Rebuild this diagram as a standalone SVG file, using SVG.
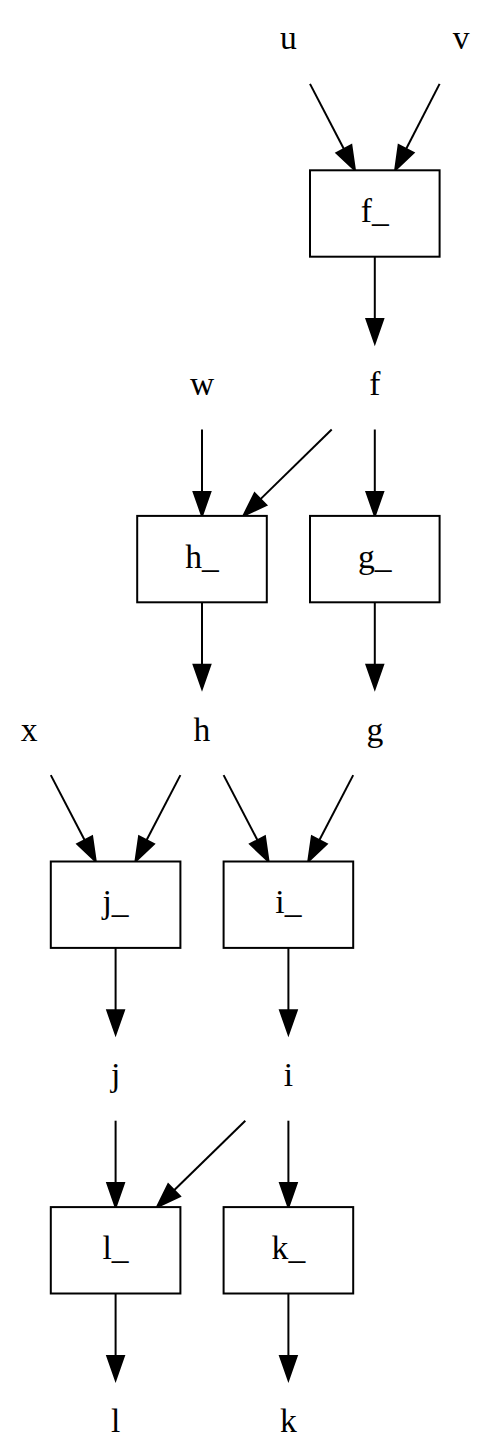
<svg xmlns="http://www.w3.org/2000/svg" width="496" height="1454" viewBox="0 0 496 1454">
<style>
text{font-family:"Liberation Serif","Times New Roman",serif;font-size:33.6px;text-anchor:middle;fill:#000}
.box{fill:#fff;stroke:#000;stroke-width:2}
.e{fill:none;stroke:#000;stroke-width:2;marker-end:url(#ah)}
</style>
<defs>
<marker id="ah" markerUnits="userSpaceOnUse" viewBox="0 0 24 16.8" markerWidth="24" markerHeight="16.8" refX="0" refY="8.4" orient="auto" overflow="visible">
<path d="M0,0 L24,8.4 L0,16.8 z" fill="#000" stroke="#000" stroke-width="2"/>
</marker>
</defs>
<rect width="496" height="1454" fill="#fff"/>
<g id="edges">
<path class="e" d="M310,83.9 L343.9,149"/>
<path class="e" d="M439.6,83.9 L406.1,149"/>
<path class="e" d="M374.8,256.7 L374.8,319.1"/>
<path class="e" d="M202,429.5 L202,491.9"/>
<path class="e" d="M331.7,429.5 L260.5,499.1"/>
<path class="e" d="M374.8,429.5 L374.8,491.9"/>
<path class="e" d="M202,602.3 L202,664.7"/>
<path class="e" d="M374.8,602.3 L374.8,664.7"/>
<path class="e" d="M50.8,775.1 L84.7,840.2"/>
<path class="e" d="M180.4,775.1 L146.5,840.2"/>
<path class="e" d="M223.6,775.1 L257.5,840.2"/>
<path class="e" d="M353.2,775.1 L319.3,840.2"/>
<path class="e" d="M115.6,947.9 L115.6,1010.3"/>
<path class="e" d="M288.4,947.9 L288.4,1010.3"/>
<path class="e" d="M115.6,1120.7 L115.6,1183.1"/>
<path class="e" d="M245.3,1120.7 L174.1,1190.3"/>
<path class="e" d="M288.4,1120.7 L288.4,1183.1"/>
<path class="e" d="M115.6,1293.5 L115.6,1355.9"/>
<path class="e" d="M288.4,1293.5 L288.4,1355.9"/>
</g>
<g id="u"><text x="288.4" y="49.4">u</text></g>
<g id="v"><text x="461.2" y="49.4">v</text></g>
<g id="f_"><rect class="box" x="310" y="170.3" width="129.6" height="86.4"/><text x="374.8" y="222.2">f_</text></g>
<g id="w"><text x="202" y="395">w</text></g>
<g id="f"><text x="374.8" y="395">f</text></g>
<g id="h_"><rect class="box" x="137.2" y="515.9" width="129.6" height="86.4"/><text x="202" y="567.8">h_</text></g>
<g id="g_"><rect class="box" x="310" y="515.9" width="129.6" height="86.4"/><text x="374.8" y="567.8">g_</text></g>
<g id="x"><text x="29.2" y="740.6">x</text></g>
<g id="h"><text x="202" y="740.6">h</text></g>
<g id="g"><text x="374.8" y="740.6">g</text></g>
<g id="j_"><rect class="box" x="50.8" y="861.5" width="129.6" height="86.4"/><text x="115.6" y="913.4">j_</text></g>
<g id="i_"><rect class="box" x="223.6" y="861.5" width="129.6" height="86.4"/><text x="288.4" y="913.4">i_</text></g>
<g id="j"><text x="115.6" y="1086.2">j</text></g>
<g id="i"><text x="288.4" y="1086.2">i</text></g>
<g id="l_"><rect class="box" x="50.8" y="1207.1" width="129.6" height="86.4"/><text x="115.6" y="1259">l_</text></g>
<g id="k_"><rect class="box" x="223.6" y="1207.1" width="129.6" height="86.4"/><text x="288.4" y="1259">k_</text></g>
<g id="l"><text x="115.6" y="1431.8">l</text></g>
<g id="k"><text x="288.4" y="1431.8">k</text></g>
</svg>
